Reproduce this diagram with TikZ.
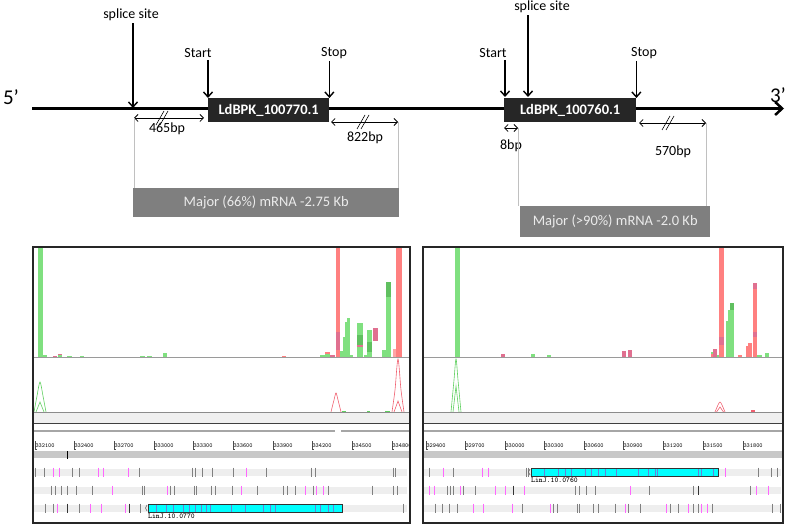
\documentclass[tikz,border=0pt]{standalone}
\usepackage{fontspec}
\setmainfont{Carlito}
\usetikzlibrary{arrows.meta}
\definecolor{mgray}{HTML}{7F7F7F}
\definecolor{lgray}{HTML}{C0C0C0}
\definecolor{bargreen}{HTML}{80E080}
\definecolor{darkgreen}{HTML}{60C060}
\definecolor{barred}{HTML}{FF8080}
\definecolor{barpink}{HTML}{E07090}
\definecolor{curvegreen}{HTML}{60D060}
\definecolor{curvered}{HTML}{F06070}
\definecolor{rowgray}{HTML}{EEEEEE}
\definecolor{bandgray}{HTML}{C8C8C8}
\definecolor{markgray}{HTML}{808080}
\definecolor{markmag}{HTML}{FF66FF}
\definecolor{exonline}{HTML}{6A7FD8}
\definecolor{exoncyan}{HTML}{00FFFF}
\begin{document}
\begin{tikzpicture}[x=1pt,y=-1pt,
  lbl/.style={font=\fontsize{14}{16}\selectfont, inner sep=0pt},
  primelbl/.style={font=\fontsize{21}{24}\selectfont, inner sep=0pt},
  varr/.style={line width=1.4pt, -{Straight Barb[length=5pt,width=9pt]}},
  dimarr/.style={line width=0.8pt, {Straight Barb[length=3.5pt,width=7pt]}-{Straight Barb[length=3.5pt,width=7pt]}},
  genebox/.style={fill=black!85, text=white, font=\bfseries\fontsize{14.5}{16}\selectfont, inner sep=0pt, anchor=north west},
  mrna/.style={fill=mgray, text=white!92!black, font=\fontsize{14.5}{16}\selectfont, inner sep=0pt, anchor=north west},
  guide/.style={draw=lgray, line width=0.6pt},
  slash/.style={line width=0.6pt},
  gbar/.style={fill=bargreen}, dgbar/.style={fill=darkgreen},
  rbar/.style={fill=barred}, pbar/.style={fill=barpink},
  gcurve/.style={draw=curvegreen, line width=0.6pt},
  rcurve/.style={draw=curvered, line width=0.6pt},
  ticklbl/.style={font=\fontsize{6}{7}\ttfamily, inner sep=0pt, anchor=west, text=black},
  genelbl/.style={font=\fontsize{7.4}{8}\ttfamily\bfseries, inner sep=0pt, anchor=north west},
  gmark/.style={draw=markgray, line width=0.9pt},
  mmark/.style={draw=markmag, line width=0.9pt},
  exon/.style={fill=exoncyan, draw=black!80, line width=0.8pt},
  exl/.style={draw=exonline, line width=0.7pt},
  panelframe/.style={draw=black!85, line width=2pt}
]
\useasboundingbox (0,0) rectangle (787,526);

% ---------- gene model ----------
\coordinate (L0) at (32,108.5);
\coordinate (L1) at (784,108.5);
\draw[line width=2.5pt, -{Straight Barb[length=7pt,width=13pt]}] (L0) -- (L1);
\node[primelbl] (p5) at (11,97) {5’};
\node[primelbl] (p3) at (778,95) {3’};

\node[genebox, minimum width=121pt, minimum height=24pt] (g1) at (208,98) {LdBPK\_100770.1};
\node[genebox, minimum width=132pt, minimum height=24pt] (g2) at (504,98) {LdBPK\_100760.1};

% labels + arrows
\node[lbl] (ss1) at (131,15) {splice site};
\node[lbl] (st1) at (198,53) {Start};
\node[lbl] (sp1) at (334,53) {Stop};
\node[lbl] (ss2) at (542,7) {splice site};
\node[lbl] (st2) at (493,53) {Start};
\node[lbl] (sp2) at (644,53) {Stop};
\coordinate (ss1e) at (133,108);
\coordinate (st1e) at (g1.north west);
\coordinate (sp1e) at (g1.north east);
\coordinate (ss2e) at (528,97);
\coordinate (st2e) at (505,97);
\coordinate (sp2e) at (g2.north east);
\draw[varr] (ss1e |- ss1.south) ++(0,2) -- (ss1e);
\draw[varr] (st1e |- st1.south) ++(0,2) -- (st1e);
\draw[varr] (sp1e |- sp1.south) ++(0,2) -- (sp1e);
\draw[varr] (ss2e |- ss2.south) ++(0,2) -- (ss2e);
\draw[varr] (st2e |- st2.south) ++(0,2) -- (st2e);
\draw[varr] (sp2e |- sp2.south) ++(0,2) -- (sp2e);

% dimension arrows
\coordinate (d1a) at (134,118); \coordinate (d1b) at (204,118);
\coordinate (d2a) at (331,122); \coordinate (d2b) at (398,122);
\coordinate (d3a) at (504,128); \coordinate (d3b) at (518,128);
\coordinate (d4a) at (639,123); \coordinate (d4b) at (706,123);
\draw[dimarr] (d1a) -- (d1b);
\draw[dimarr] (d2a) -- (d2b);
\draw[dimarr] (d3a) -- (d3b);
\draw[dimarr] (d4a) -- (d4b);
\foreach \sx/\sy in {161/118, 362/122, 667/123}{
  \draw[slash] (\sx-5,\sy+7) -- (\sx+3,\sy-7);
  \draw[slash] (\sx-1,\sy+7) -- (\sx+7,\sy-7);
}
\node[lbl] (b465) at (167,129) {465bp};
\node[lbl] (b822) at (365,138) {822bp};
\node[lbl] (b8) at (511,146) {8bp};
\node[lbl] (b570) at (673,152) {570bp};

% mRNA boxes
\node[mrna, minimum width=266pt, minimum height=29pt] (m1) at (133,188) {Major (66\%) mRNA -2.75 Kb};
\node[mrna, minimum width=190pt, minimum height=31pt] (m2) at (520,206) {Major (>90\%) mRNA -2.0 Kb};
\draw[guide] (d1a) -- (d1a |- m1.north);
\draw[guide] (d2b) -- (d2b |- m1.north);
\draw[guide] (d3b) -- (d3b |- m2.north);
\draw[guide] (d4b) -- (d4b |- m2.north);

% ---------- panel 1 ----------
\begin{scope}
\clip (33,247) rectangle (410,523);
% coverage bars
\fill[gbar] (38.3,247) rectangle (42.7,358);
\fill[gbar] (43,355) rectangle (47,358);
\fill[pbar] (53,356) rectangle (57,358);
\fill[gbar] (58,355) rectangle (62,358);
\fill[pbar] (58,354.5) rectangle (62,355.5);
\fill[gbar] (67,356) rectangle (72,358);
\fill[gbar] (80,356) rectangle (84,358);
\fill[gbar] (140,356) rectangle (145,358);
\fill[gbar] (147,356) rectangle (152,358);
\fill[gbar] (163,353) rectangle (167,358);
\fill[rbar] (282,356) rectangle (286,358);
\fill[gbar] (320,355) rectangle (325,358);
\fill[gbar] (325,353) rectangle (330,358);
\fill[rbar] (325,352.5) rectangle (330,354);
\fill[pbar] (330,355) rectangle (335,358);
\fill[rbar] (336,247) rectangle (340,358);
\fill[pbar] (336,332) rectangle (340,350);
\fill[gbar] (340,351) rectangle (343,358);
\fill[gbar] (343,337) rectangle (345.5,358);
\fill[gbar] (345,322) rectangle (347.5,358);
\fill[gbar] (347,318) rectangle (350,358);
\fill[gbar] (350,355) rectangle (353,358);
\fill[gbar] (357,323) rectangle (363,358);
\fill[dgbar] (357,335) rectangle (363,345);
\fill[pbar] (357,345.5) rectangle (363,347);
\fill[gbar] (364,355) rectangle (367,358);
\fill[gbar] (367,330) rectangle (372,358);
\fill[dgbar] (367,342) rectangle (372,352);
\fill[pbar] (373,328) rectangle (378,341);
\fill[gbar] (382,350) rectangle (386,358);
\fill[gbar] (386,282) rectangle (391,358);
\fill[dgbar] (386,282) rectangle (391,297);
\fill[barred!70] (393,349) rectangle (397,358);
\fill[rbar] (396,247) rectangle (402,358);
\draw[lgray!80!black, line width=1pt] (33,358) -- (410,358);
% read curves
\draw[gcurve] plot[smooth] coordinates {(34,412) (37,396) (40,382) (43,396) (46,412)};
\draw[gcurve] (36,412) -- (40,402) -- (44,412);
\draw[rcurve] plot[smooth] coordinates {(331,412) (334,400) (336,393) (338,400) (341,412)};
\draw[rcurve] plot[smooth] coordinates {(392,412) (395,390) (398,359) (401,390) (404,412)};
\draw[rcurve] (394,412) -- (398,401) -- (402,412);
\draw[gcurve, line width=1pt] (342,411) -- (346,411);
\draw[gcurve, line width=1pt] (367,411) -- (370,411);
\draw[gcurve, line width=1pt] (385,411) -- (390,411);
% tracks
\fill[black!6] (33,412) rectangle (410,423);
\draw[black!45, line width=0.8pt] (33,412) -- (410,412);
\draw[black!75, line width=0.9pt] (33,423) -- (410,423);
\draw[black!35, line width=1.4pt] (33,431) -- (335,431);
\draw[black!35, line width=1.4pt] (341,431) -- (410,431);
\foreach \tx/\tl [count=\i] in {35/332100,74/332400,114/332700,154/333000,193/333300,233/333600,273/333900,312/334200,352/334500,392/334800}{
  \draw[black!70, line width=0.7pt] (\tx,441) -- (\tx,449) -- (\tx+2,449);
  \node[ticklbl] (ta\i) at (\tx+0.3,446) {\tl};
}
\fill[bandgray] (33,451) rectangle (410,458);
\draw[black, line width=0.8pt] (67,451) -- (67,459);
\foreach \ry in {472,490,508}{\fill[rowgray] (34,\ry-3.5) rectangle (407,\ry+3.5);}
\foreach \mx in {35,44,72,79,139,192,195,202,212,233,266,311,315,393,395}{\draw[gmark] (\mx,467.5) -- (\mx,476.5);}
\foreach \mx in {53,59,98,103,128,246}{\draw[mmark] (\mx,467.5) -- (\mx,476.5);}
\foreach \mx in {51,55,61,67,76,92,142,144,170,174,194,196,211,215,232,257,283,287,295,313,328,372,393,397}{\draw[gmark] (\mx,485.5) -- (\mx,494.5);}
\foreach \mx in {112,167,241,305,316,323}{\draw[mmark] (\mx,485.5) -- (\mx,494.5);}
\foreach \mx in {45,53,79,140,403}{\draw[gmark] (\mx,503.5) -- (\mx,512.5);}
\foreach \mx in {67,129}{\draw[gmark, draw=black!80] (\mx,503.5) -- (\mx,512.5);}
\foreach \mx in {57,90,101,125}{\draw[mmark] (\mx,503.5) -- (\mx,512.5);}
\draw[black!60, line width=0.6pt] (147,505) -- (145.5,508) -- (147,511);
\node[exon, minimum width=194pt, minimum height=8pt, inner sep=0pt, anchor=north west] (ex1) at (148,504) {};
\foreach \mx in {156.7,166.7,173.3,183.3,189.3,195,201.7,206.7,210,231.7,245,263.3,270,275,315,320,328.3,333.3}{\draw[exl] (\mx,504) -- (\mx,512);}
\draw[black!80, line width=0.8pt] (ex1.north west) rectangle (ex1.south east);
\node[genelbl] (gl1) at (148,513.5) {LinJ.10.0770};
\end{scope}
\draw[panelframe] (33,247) rectangle (410,523);

% ---------- panel 2 ----------
\begin{scope}
\clip (423,247) rectangle (783,523);
\fill[gbar] (455,247) rectangle (460,358);
\fill[pbar] (501,354) rectangle (505,358);
\fill[gbar] (531,354) rectangle (535,358);
\fill[gbar] (547,355) rectangle (551,358);
\fill[pbar] (622,351) rectangle (626,358);
\fill[pbar] (628,350) rectangle (632,358);
\fill[rbar] (711,353) rectangle (714,358);
\fill[gbar] (711,352.5) rectangle (714,354);
\fill[pbar] (713,349) rectangle (717,358);
\fill[gbar] (717,355) rectangle (720,358);
\fill[rbar] (719,247) rectangle (724,358);
\fill[pbar] (719,337) rectangle (724,345);
\fill[gbar] (726,321) rectangle (729,358);
\fill[gbar] (728,310) rectangle (731,358);
\fill[gbar] (729.5,303) rectangle (734,358);
\fill[dgbar] (729.5,303) rectangle (734,310);
\fill[rbar] (738,355) rectangle (742,358);
\fill[rbar] (746,346) rectangle (750,358);
\fill[rbar] (748,343) rectangle (752,358);
\fill[rbar] (753,283) rectangle (757,358);
\fill[pbar] (753,283) rectangle (757,289);
\fill[pbar] (753,332) rectangle (757,337);
\fill[gbar] (757,355) rectangle (762,358);
\fill[gbar] (765,353) rectangle (769,358);
\draw[lgray!80!black, line width=1pt] (423,358) -- (783,358);
\draw[gcurve] plot[smooth] coordinates {(451,412) (454,380) (456,359) (458,380) (461,412)};
\draw[gcurve] (453,412) -- (456,386) -- (459,412);
\draw[rcurve] plot[smooth] coordinates {(715,412) (718,405) (720,402) (722,405) (725,412)};
\draw[rcurve] (716.5,412) -- (720,407) -- (723.5,412);
\draw[curvered, line width=1.2pt] (751,411) -- (755,411);
\fill[black!6] (423,412) rectangle (783,423);
\draw[black!45, line width=0.8pt] (423,412) -- (783,412);
\draw[black!75, line width=0.9pt] (423,423) -- (783,423);
\draw[black!35, line width=1.4pt] (423,431) -- (783,431);
\foreach \tx/\tl [count=\i] in {426/329400,465/329700,505/330000,544/330300,584/330600,623/330900,663/331200,703/331500,743/331800}{
  \draw[black!70, line width=0.7pt] (\tx,441) -- (\tx,449) -- (\tx+2,449);
  \node[ticklbl] (tb\i) at (\tx+0.3,446) {\tl};
}
\fill[bandgray] (423,451) rectangle (783,458);
\foreach \ry in {472,490,508}{\fill[rowgray] (424,\ry-3.5) rectangle (781,\ry+3.5);}
\foreach \mx in {429,453,526,528,758,771,777}{\draw[gmark] (\mx,467.5) -- (\mx,476.5);}
\foreach \mx in {443,482,488,725}{\draw[mmark] (\mx,467.5) -- (\mx,476.5);}
\foreach \mx in {447,450,453,463,475,575,579,586,595,649,693,750}{\draw[gmark] (\mx,485.5) -- (\mx,494.5);}
\foreach \mx in {513,698}{\draw[gmark, draw=black!80] (\mx,485.5) -- (\mx,494.5);}
\foreach \mx in {429,434,460,495,505,524,630,756,768}{\draw[mmark] (\mx,485.5) -- (\mx,494.5);}
\foreach \mx in {435,442,449,457,522,553,557,577,579,593,598,615,628,640,670,678,693,698,712,772,780}{\draw[gmark] (\mx,503.5) -- (\mx,512.5);}
\foreach \mx in {473,483,512,550,625,666,688,701,707}{\draw[mmark] (\mx,503.5) -- (\mx,512.5);}
\draw[black!60, line width=0.6pt] (530,469) -- (528.5,472) -- (530,475);
\node[exon, minimum width=187pt, minimum height=8pt, inner sep=0pt, anchor=north west] (ex2) at (531,468) {};
\foreach \mx in {544,558.3,565,571.7,585,591.7,598.3,605,616.7,638.3,648.3,655,657.7,698.3,701,713.3}{\draw[exl] (\mx,468) -- (\mx,476);}
\draw[black!80, line width=0.8pt] (ex2.north west) rectangle (ex2.south east);
\node[genelbl] (gl2) at (531,477.5) {LinJ.10.0760};
\end{scope}
\draw[panelframe] (423,247) rectangle (783,523);
\end{tikzpicture}
\end{document}
